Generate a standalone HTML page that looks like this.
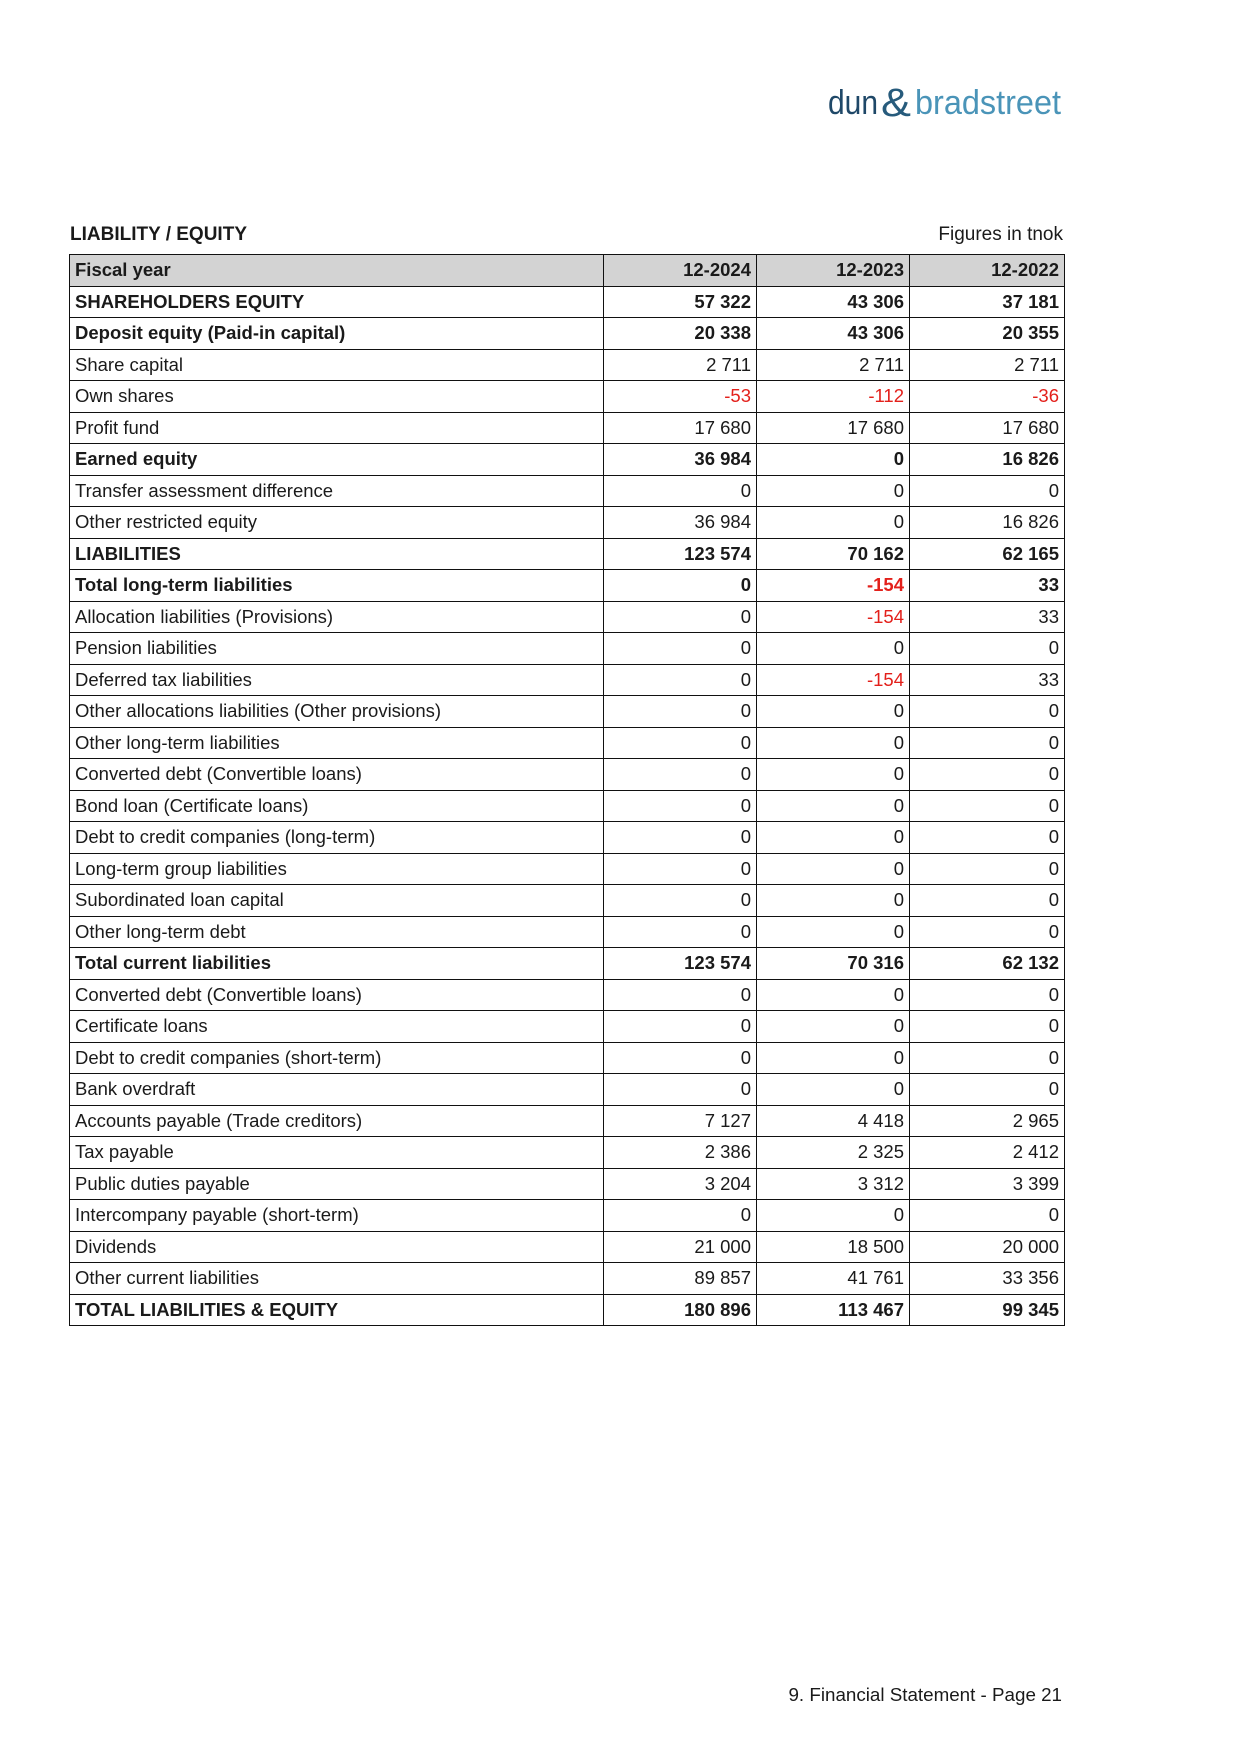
<!DOCTYPE html>
<html><head><meta charset="utf-8">
<style>
html,body{margin:0;padding:0;background:#fff;}
body{width:1241px;height:1754px;position:relative;font-family:"Liberation Sans",Arial,sans-serif;color:#1a1a1a;}
.title{position:absolute;left:70px;top:224px;font-size:19px;font-weight:bold;}
.fig{position:absolute;right:178px;top:224px;font-size:19px;}
table{position:absolute;left:69px;top:254px;width:995px;border-collapse:collapse;table-layout:fixed;font-size:18.5px;}
td{border:1.3px solid #111;height:30.5px;padding:0 5px;white-space:nowrap;line-height:20px;}
td.n{text-align:right;}
tr.h td{background:#d3d3d3;font-weight:bold;}
tr.b td{font-weight:bold;}
.r{color:#e3201b;}
.foot{position:absolute;right:179px;top:1684px;font-size:18.8px;}
</style></head><body>
<svg style="position:absolute;left:826px;top:78px" width="240" height="46">
<text x="2" y="36" font-family="Liberation Sans, sans-serif" font-size="34" fill="#1f4868" textLength="50" lengthAdjust="spacingAndGlyphs">dun</text>
<text x="55" y="38" font-family="Liberation Sans, sans-serif" font-size="40" fill="#275b7c" textLength="30" lengthAdjust="spacingAndGlyphs">&amp;</text>
<text x="89" y="36" font-family="Liberation Sans, sans-serif" font-size="34" fill="#4a94b8" textLength="146" lengthAdjust="spacingAndGlyphs">bradstreet</text>
</svg>
<div class="title">LIABILITY / EQUITY</div>
<div class="fig">Figures in tnok</div>
<table>
<colgroup><col style="width:534px"><col style="width:153px"><col style="width:153px"><col style="width:155px"></colgroup>
<tr class="h"><td>Fiscal year</td><td class="n">12-2024</td><td class="n">12-2023</td><td class="n">12-2022</td></tr>
<tr class="b"><td>SHAREHOLDERS EQUITY</td><td class="n">57 322</td><td class="n">43 306</td><td class="n">37 181</td></tr>
<tr class="b"><td>Deposit equity (Paid-in capital)</td><td class="n">20 338</td><td class="n">43 306</td><td class="n">20 355</td></tr>
<tr><td>Share capital</td><td class="n">2 711</td><td class="n">2 711</td><td class="n">2 711</td></tr>
<tr><td>Own shares</td><td class="n r">-53</td><td class="n r">-112</td><td class="n r">-36</td></tr>
<tr><td>Profit fund</td><td class="n">17 680</td><td class="n">17 680</td><td class="n">17 680</td></tr>
<tr class="b"><td>Earned equity</td><td class="n">36 984</td><td class="n">0</td><td class="n">16 826</td></tr>
<tr><td>Transfer assessment difference</td><td class="n">0</td><td class="n">0</td><td class="n">0</td></tr>
<tr><td>Other restricted equity</td><td class="n">36 984</td><td class="n">0</td><td class="n">16 826</td></tr>
<tr class="b"><td>LIABILITIES</td><td class="n">123 574</td><td class="n">70 162</td><td class="n">62 165</td></tr>
<tr class="b"><td>Total long-term liabilities</td><td class="n">0</td><td class="n r">-154</td><td class="n">33</td></tr>
<tr><td>Allocation liabilities (Provisions)</td><td class="n">0</td><td class="n r">-154</td><td class="n">33</td></tr>
<tr><td>Pension liabilities</td><td class="n">0</td><td class="n">0</td><td class="n">0</td></tr>
<tr><td>Deferred tax liabilities</td><td class="n">0</td><td class="n r">-154</td><td class="n">33</td></tr>
<tr><td>Other allocations liabilities (Other provisions)</td><td class="n">0</td><td class="n">0</td><td class="n">0</td></tr>
<tr><td>Other long-term liabilities</td><td class="n">0</td><td class="n">0</td><td class="n">0</td></tr>
<tr><td>Converted debt (Convertible loans)</td><td class="n">0</td><td class="n">0</td><td class="n">0</td></tr>
<tr><td>Bond loan (Certificate loans)</td><td class="n">0</td><td class="n">0</td><td class="n">0</td></tr>
<tr><td>Debt to credit companies (long-term)</td><td class="n">0</td><td class="n">0</td><td class="n">0</td></tr>
<tr><td>Long-term group liabilities</td><td class="n">0</td><td class="n">0</td><td class="n">0</td></tr>
<tr><td>Subordinated loan capital</td><td class="n">0</td><td class="n">0</td><td class="n">0</td></tr>
<tr><td>Other long-term debt</td><td class="n">0</td><td class="n">0</td><td class="n">0</td></tr>
<tr class="b"><td>Total current liabilities</td><td class="n">123 574</td><td class="n">70 316</td><td class="n">62 132</td></tr>
<tr><td>Converted debt (Convertible loans)</td><td class="n">0</td><td class="n">0</td><td class="n">0</td></tr>
<tr><td>Certificate loans</td><td class="n">0</td><td class="n">0</td><td class="n">0</td></tr>
<tr><td>Debt to credit companies (short-term)</td><td class="n">0</td><td class="n">0</td><td class="n">0</td></tr>
<tr><td>Bank overdraft</td><td class="n">0</td><td class="n">0</td><td class="n">0</td></tr>
<tr><td>Accounts payable (Trade creditors)</td><td class="n">7 127</td><td class="n">4 418</td><td class="n">2 965</td></tr>
<tr><td>Tax payable</td><td class="n">2 386</td><td class="n">2 325</td><td class="n">2 412</td></tr>
<tr><td>Public duties payable</td><td class="n">3 204</td><td class="n">3 312</td><td class="n">3 399</td></tr>
<tr><td>Intercompany payable (short-term)</td><td class="n">0</td><td class="n">0</td><td class="n">0</td></tr>
<tr><td>Dividends</td><td class="n">21 000</td><td class="n">18 500</td><td class="n">20 000</td></tr>
<tr><td>Other current liabilities</td><td class="n">89 857</td><td class="n">41 761</td><td class="n">33 356</td></tr>
<tr class="b"><td>TOTAL LIABILITIES &amp; EQUITY</td><td class="n">180 896</td><td class="n">113 467</td><td class="n">99 345</td></tr>
</table>
<div class="foot">9. Financial Statement - Page 21</div>
</body></html>
